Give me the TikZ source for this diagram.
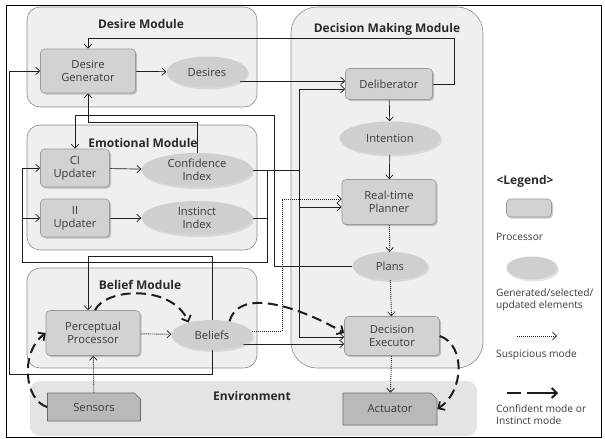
\documentclass[tikz,border=0pt]{standalone}
\usepackage{fontspec}
\setmainfont{Open Sans}
\usetikzlibrary{arrows.meta,shadows,shapes.geometric,shapes.misc,calc}
\pgfdeclarelayer{back}
\pgfdeclarelayer{wires}
\pgfsetlayers{back,wires,main}

\definecolor{modfill}{HTML}{EFEFEF}
\definecolor{modline}{HTML}{8C8C8C}
\definecolor{envfill}{HTML}{E4E4E4}
\definecolor{procfill}{HTML}{D2D2D2}
\definecolor{procline}{HTML}{9A9A9A}
\definecolor{elemfill}{HTML}{CFCFCF}
\definecolor{devfill}{HTML}{B9B9B9}
\definecolor{devline}{HTML}{6A6A6A}
\definecolor{wirec}{HTML}{1E1E1E}
\definecolor{txt}{HTML}{3A3A3A}
\definecolor{titlec}{HTML}{2A2A2A}

\newcommand{\nodefont}{\fontsize{11.2}{13}\selectfont}
\newcommand{\titlefont}{\fontsize{12}{14}\selectfont\bfseries}
\newcommand{\legfont}{\fontsize{10.2}{12}\selectfont}

\begin{document}
\begin{tikzpicture}[x=1pt,y=-1pt,
  modbox/.style={draw=modline, fill=modfill, line width=0.6pt, rounded corners=13pt, inner sep=0pt},
  envbox/.style={fill=envfill, rounded corners=10pt, inner sep=0pt},
  proc/.style={draw=procline, fill=procfill, line width=0.6pt, rounded corners=4pt,
    align=center, font=\nodefont, text=txt, inner sep=1pt,
    drop shadow={shadow xshift=1.5pt, shadow yshift=-1.5pt, opacity=0.35, fill=black!60}},
  elem/.style={ellipse, fill=elemfill, align=center, font=\nodefont, text=txt, inner sep=0pt,
    drop shadow={shadow xshift=1.5pt, shadow yshift=-2pt, opacity=0.2, fill=black!50}},
  device/.style={chamfered rectangle, chamfered rectangle corners=north east,
    chamfered rectangle xsep=3pt, chamfered rectangle ysep=3pt,
    draw=devline, fill=devfill, line width=0.6pt, font=\nodefont, text=txt, inner sep=1pt},
  title/.style={font=\titlefont, text=titlec, inner sep=0pt},
  legtext/.style={font=\legfont, text=txt, inner sep=0pt, align=left},
  wire/.style={draw=wirec, line width=0.7pt},
  arr/.style={wire, -{Straight Barb[length=4pt,width=7.5pt,line width=0.7pt]}},
  dotarr/.style={arr, line width=0.9pt, dash pattern=on 1pt off 1pt},
  boldarr/.style={draw=wirec, line width=2pt, dash pattern=on 10pt off 5.5pt,
    -{Straight Barb[length=5pt,width=10pt,line width=1.8pt]}}
]
\path[use as bounding box] (0,0) rectangle (605,439);

% ---------- module frames ----------
\begin{pgfonlayer}{back}
  \node[draw=black, line width=1pt, minimum width=595pt, minimum height=432pt, inner sep=0pt] (frame) at (303.5,221) {};
  \node[modbox, minimum width=230pt, minimum height=100pt] (desmod) at (142,57) {};
  \node[modbox, minimum width=230pt, minimum height=125pt] (emomod) at (142,187.5) {};
  \node[modbox, minimum width=230pt, minimum height=100pt] (belmod) at (142,318) {};
  \node[modbox, rounded corners=26pt, minimum width=192pt, minimum height=361pt] (dmmod) at (387,187.5) {};
  \node[envbox, minimum width=447pt, minimum height=55pt] (envmod) at (253.5,408.5) {};
\end{pgfonlayer}

% ---------- titles ----------
\node[title] (t1) at (141,24) {Desire Module};
\node[title] (t2) at (143,143) {Emotional Module};
\node[title] (t3) at (140,285) {Belief Module};
\node[title] (t4) at (387,29) {Decision Making Module};
\node[title] (t5) at (252,396) {Environment};

% ---------- processors and elements ----------
\node[proc, minimum width=95pt, minimum height=44pt] (dg) at (88,71) {Desire\\Generator};
\node[elem, minimum width=81pt, minimum height=31pt] (des) at (207,72) {Desires};
\node[proc, minimum width=69pt, minimum height=38pt] (ciu) at (75,168) {CI\\Updater};
\node[elem, minimum width=111pt, minimum height=34pt] (ci) at (197,170) {Confidence\\Index};
\node[proc, minimum width=69pt, minimum height=38pt] (iiu) at (75,218) {II\\Updater};
\node[elem, minimum width=111pt, minimum height=34pt] (ii) at (197,218) {Instinct\\Index};
\node[proc, minimum width=94pt, minimum height=45pt] (pp) at (93,333) {Perceptual\\Processor};
\node[elem, minimum width=81pt, minimum height=30pt] (bel) at (212,335) {Beliefs};
\node[device, minimum width=93pt, minimum height=28pt] (sens) at (94,407) {Sensors};
\node[device, minimum width=94pt, minimum height=32pt] (act) at (390,409) {Actuator};
\node[proc, minimum width=87pt, minimum height=31pt] (delib) at (389,84) {Deliberator};
\node[elem, minimum width=101pt, minimum height=33pt] (int) at (390,138) {Intention};
\node[proc, minimum width=94pt, minimum height=45pt] (rtp) at (389,202) {Real-time\\Planner};
\node[elem, minimum width=75pt, minimum height=28pt] (plans) at (390,266) {Plans};
\node[proc, minimum width=95pt, minimum height=39pt] (de) at (392,336) {Decision\\Executor};

% ---------- routing points ----------
\coordinate (topbus) at (454,38);
\coordinate (cit) at (197,122);
\coordinate (plx) at (274,115);
\coordinate (cibus) at (299,170);
\coordinate (cijoin) at (267,170);
\coordinate (cilow) at (267,262);
\coordinate (updl) at (22,262);
\coordinate (beltop) at (212,256);
\coordinate (belbot) at (212,374);
\coordinate (leftret) at (9,374);
\coordinate (dotc) at (282,199);
\coordinate (bel1) at ($(bel.center)+(0,-4)$);
\coordinate (bel2) at ($(bel.center)+(0,9)$);
\coordinate (ppin) at ($(pp.north)+(-5,0)$);

% ---------- solid and dotted connectors ----------
\begin{pgfonlayer}{wires}
  \draw[arr] (dg) -- (des);
  \draw[arr] (des.-15) -- (des.-15 -| delib.west);
  \draw[arr] (delib.east) -| (topbus) -| (dg.north);
  \draw[arr] (delib) -- (int);
  \draw[arr] (int) -- (rtp);
  \draw[dotarr] (rtp) -- (plans);
  \draw[dotarr] (plans) -- (de);
  \draw[dotarr] (de) -- (act);
  \draw[arr] (ciu) -- (ci);
  \draw[arr] (iiu) -- (ii);
  \draw[dotarr] (pp) -- (bel);
  \draw[dotarr] (sens) -- (pp);
  % confidence index to the updaters
  \draw[arr] (ci.north) -- (cit) -| (dg.south);
  \draw[arr] (ci.east) -- (cijoin) -- (cilow) -- (updl) |- (ciu.west);
  \draw[arr] (updl |- iiu.west) -- (iiu.west);
  \draw[wire] (ii.east) -- (ii.east -| cijoin);
  % confidence index to the decision making module
  \draw[wire] (ci.east) -- (cibus);
  \draw[arr] (cibus) |- ($(delib.west)+(0,5)$);
  \draw[arr] (cibus) |- ($(rtp.west)+(0,5)$);
  \draw[arr] (cibus) |- ($(de.west)+(0,1)$);
  % plans back to the CI updater
  \draw[arr] (plans.west) -| (plx) -| (ciu.north);
  % beliefs outputs
  \draw[arr] (bel.center) -- (beltop) -| (ppin);
  \draw[arr] (bel.center) -- (belbot) -- (leftret) |- (dg.west);
  \draw[arr] (bel2) -- (bel2 -| de.west);
  \draw[dotarr] (bel1) -| (dotc) -- (dotc -| rtp.west);
\end{pgfonlayer}

% ---------- confident / instinct mode paths ----------
\draw[boldarr] (sens.west) .. controls (24,400) and (20,352) .. (pp.west);
\draw[boldarr] ([xshift=2pt]pp.north) .. controls (105,288) and (172,284) .. (bel.152);
\draw[boldarr] (bel.38) .. controls (240,285) and (305,310) .. ($(de.west)+(0,-3)$);
\draw[boldarr] (de.east) .. controls (466,345) and (464,392) .. (act.east);

% ---------- legend ----------
\node[title] (legt) at (525,181) {<Legend>};
\node[proc, minimum width=45pt, minimum height=18pt] (legp) at (529,208) {};
\node[legtext, anchor=west] (legpt) at (496,237) {Processor};
\node[elem, minimum width=51pt, minimum height=23pt] (lege) at (532,268) {};
\node[legtext, anchor=north west] (legetx) at (496,289) {Generated/selected/\\updated elements};
\coordinate (lds) at (517,336);
\coordinate (lde) at (557,336);
\draw[dotarr] (lds) -- (lde);
\node[legtext, anchor=west] (legdt) at (496,355) {Suspicious mode};
\coordinate (lbs) at (507,393);
\coordinate (lbe) at (558,393);
\draw[boldarr, dash pattern=on 14pt off 6pt on 40pt off 1pt] (lbs) -- (lbe);
\node[legtext, anchor=north west] (legbt) at (496,404) {Confident mode or\\Instinct mode};
\end{tikzpicture}
\end{document}
